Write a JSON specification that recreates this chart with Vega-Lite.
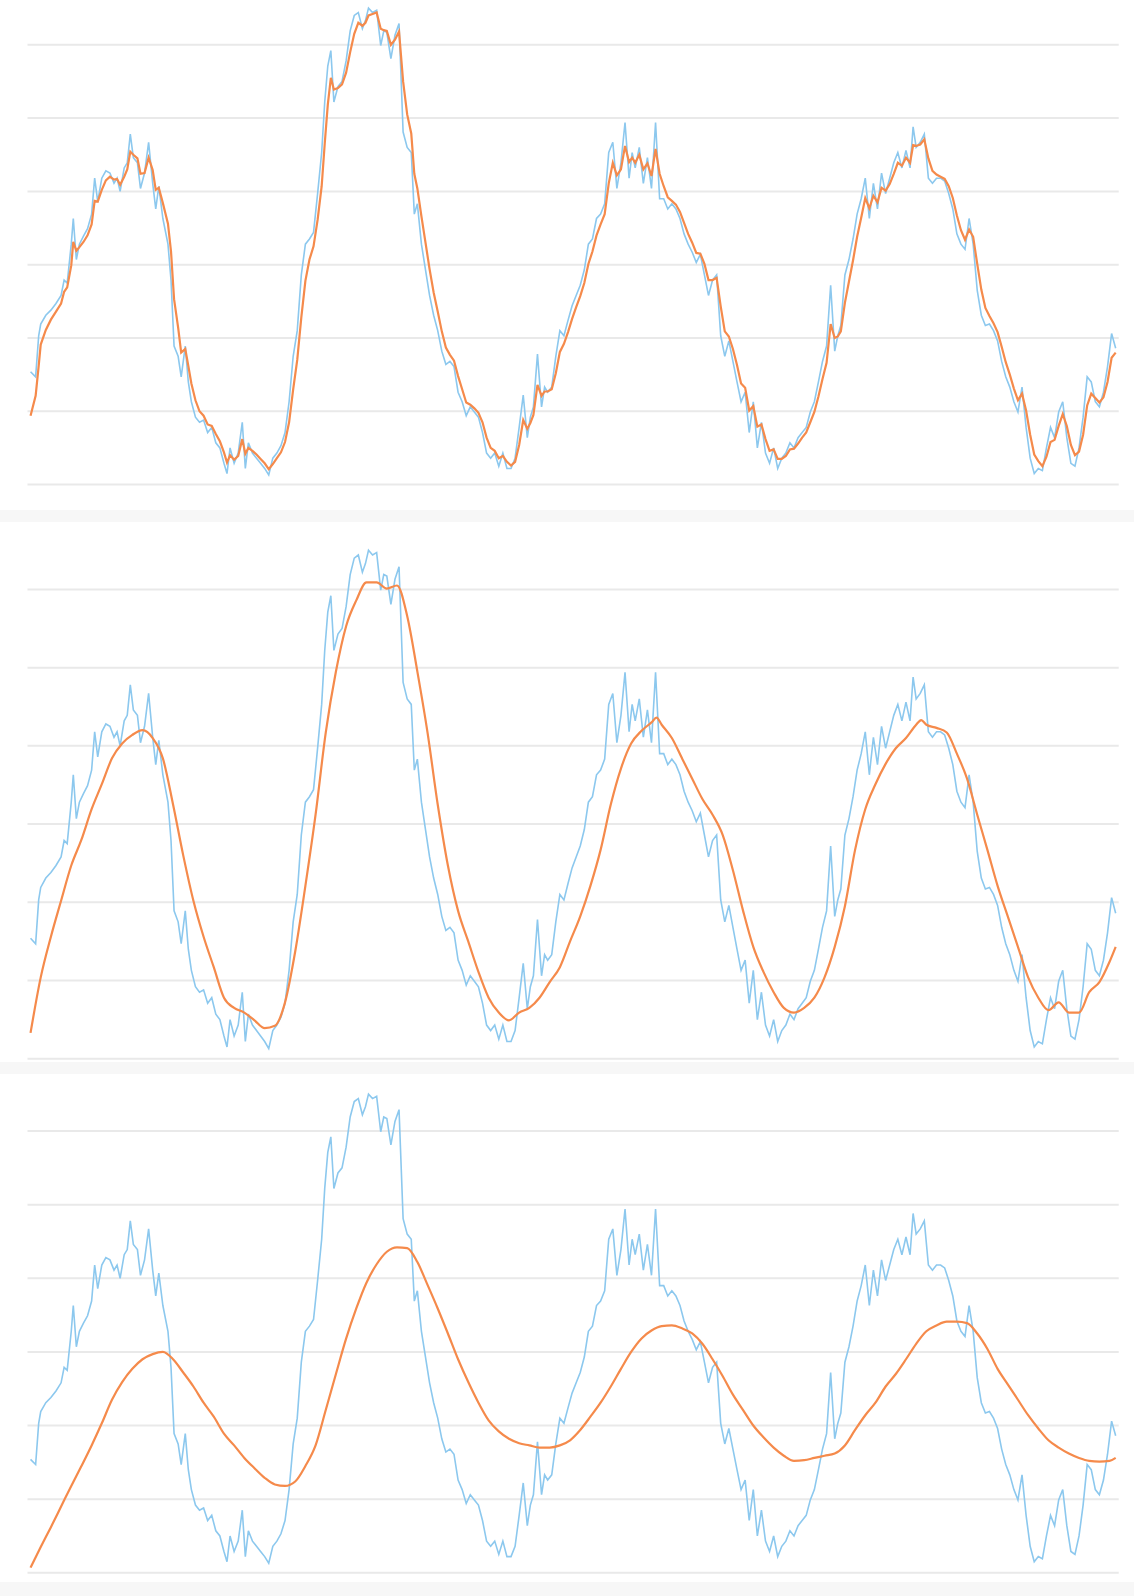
{
"$schema": "https://vega.github.io/schema/vega-lite/v6.json",
"background": "#f7f7f7",
"padding": {"left": 0, "right": 0, "top": 0, "bottom": 14},
"autosize": {"type": "pad"},
"spacing": 12,
"config": {"view": {"stroke": null, "fill": "white"}},
"datasets": {
"grid": [{"v":0,"x1":27,"x2":1099},{"v":10,"x1":27,"x2":1099},{"v":20,"x1":27,"x2":1099},{"v":30,"x1":27,"x2":1099},{"v":40,"x1":27,"x2":1099},{"v":50,"x1":27,"x2":1099},{"v":60,"x1":27,"x2":1099}],
"raw": [
{"t":30,"v":15.4},{"t":35,"v":14.7},{"t":38,"v":20.3},{"t":40,"v":21.9},{"t":45,"v":23.1},{"t":50,"v":23.8},{"t":55,"v":24.7},{"t":60,"v":25.8},{"t":63,"v":27.9},{"t":66,"v":27.5},
{"t":70,"v":32.8},{"t":72,"v":36.3},{"t":75,"v":30.7},{"t":78,"v":32.8},{"t":82,"v":33.9},{"t":86,"v":34.9},{"t":90,"v":36.9},{"t":93,"v":41.8},{"t":96,"v":38.6},{"t":100,"v":41.8},
{"t":104,"v":42.8},{"t":108,"v":42.5},{"t":112,"v":41.1},{"t":115,"v":41.8},{"t":118,"v":40.0},{"t":122,"v":43.2},{"t":125,"v":43.9},{"t":128,"v":47.8},{"t":131,"v":44.6},{"t":135,"v":43.9},
{"t":138,"v":40.4},{"t":142,"v":42.5},{"t":146,"v":46.7},{"t":150,"v":41.1},{"t":153,"v":37.6},{"t":156,"v":40.7},{"t":160,"v":36.3},{"t":165,"v":32.8},{"t":168,"v":27.9},{"t":171,"v":18.9},
{"t":175,"v":17.5},{"t":178,"v":14.7},{"t":182,"v":18.9},{"t":185,"v":14.0},{"t":188,"v":11.3},{"t":192,"v":9.2},{"t":196,"v":8.5},{"t":200,"v":8.8},{"t":204,"v":7.1},{"t":208,"v":7.8},
{"t":212,"v":5.7},{"t":216,"v":5.0},{"t":220,"v":2.9},{"t":223,"v":1.5},{"t":226,"v":5.0},{"t":230,"v":2.9},{"t":234,"v":4.3},{"t":238,"v":8.5},{"t":241,"v":2.2},{"t":244,"v":5.7},
{"t":248,"v":4.3},{"t":252,"v":3.6},{"t":256,"v":2.9},{"t":260,"v":2.2},{"t":264,"v":1.3},{"t":268,"v":3.6},{"t":272,"v":4.3},{"t":276,"v":5.3},{"t":280,"v":7.1},{"t":284,"v":11.3},
{"t":288,"v":17.5},{"t":292,"v":21.0},{"t":296,"v":28.6},{"t":300,"v":32.8},{"t":304,"v":33.5},{"t":308,"v":34.4},{"t":312,"v":39.7},{"t":316,"v":45.3},{"t":319,"v":52.2},{"t":322,"v":57.1},
{"t":325,"v":59.2},{"t":328,"v":52.2},{"t":332,"v":54.3},{"t":336,"v":55.0},{"t":340,"v":57.8},{"t":344,"v":61.9},{"t":348,"v":64.0},{"t":352,"v":64.4},{"t":356,"v":62.2},{"t":359,"v":63.3},
{"t":362,"v":65.0},{"t":366,"v":64.4},{"t":370,"v":64.7},{"t":374,"v":59.9},{"t":377,"v":61.9},{"t":380,"v":61.7},{"t":384,"v":58.1},{"t":388,"v":61.3},{"t":392,"v":62.9},{"t":396,"v":48.1},
{"t":400,"v":46.0},{"t":404,"v":45.3},{"t":407,"v":36.9},{"t":410,"v":38.3},{"t":414,"v":32.8},{"t":418,"v":29.3},{"t":422,"v":25.8},{"t":426,"v":23.1},{"t":430,"v":21.0},{"t":434,"v":18.2},
{"t":438,"v":16.4},{"t":442,"v":16.8},{"t":446,"v":16.1},{"t":450,"v":12.6},{"t":454,"v":11.3},{"t":458,"v":9.4},{"t":462,"v":10.6},{"t":466,"v":9.9},{"t":470,"v":9.2},{"t":474,"v":7.1},
{"t":478,"v":4.3},{"t":482,"v":3.6},{"t":486,"v":4.3},{"t":490,"v":2.5},{"t":494,"v":4.3},{"t":498,"v":2.2},{"t":502,"v":2.2},{"t":506,"v":3.6},{"t":510,"v":7.8},{"t":514,"v":12.2},
{"t":518,"v":6.4},{"t":521,"v":9.2},{"t":524,"v":10.6},{"t":528,"v":17.8},{"t":532,"v":10.6},{"t":535,"v":13.3},{"t":538,"v":12.6},{"t":542,"v":13.3},{"t":546,"v":17.5},{"t":550,"v":21.0},
{"t":554,"v":20.3},{"t":558,"v":22.4},{"t":562,"v":24.4},{"t":566,"v":25.8},{"t":570,"v":27.2},{"t":574,"v":29.3},{"t":578,"v":32.8},{"t":582,"v":33.5},{"t":586,"v":36.3},{"t":590,"v":36.9},
{"t":594,"v":38.3},{"t":598,"v":45.3},{"t":602,"v":46.7},{"t":606,"v":40.4},{"t":610,"v":43.9},{"t":614,"v":49.4},{"t":618,"v":41.8},{"t":621,"v":45.3},{"t":624,"v":43.2},{"t":628,"v":46.0},
{"t":632,"v":41.1},{"t":636,"v":44.6},{"t":640,"v":40.4},{"t":644,"v":49.4},{"t":648,"v":39.0},{"t":652,"v":39.0},{"t":656,"v":37.6},{"t":660,"v":38.3},{"t":664,"v":37.6},{"t":668,"v":36.3},
{"t":672,"v":34.2},{"t":676,"v":32.8},{"t":680,"v":31.7},{"t":684,"v":30.3},{"t":688,"v":31.4},{"t":692,"v":28.6},{"t":696,"v":25.8},{"t":700,"v":27.9},{"t":704,"v":28.6},{"t":708,"v":20.3},
{"t":712,"v":17.5},{"t":716,"v":19.6},{"t":720,"v":16.8},{"t":724,"v":14.0},{"t":728,"v":11.3},{"t":732,"v":12.6},{"t":736,"v":7.1},{"t":740,"v":11.3},{"t":744,"v":5.0},{"t":748,"v":8.5},
{"t":752,"v":4.3},{"t":756,"v":2.9},{"t":760,"v":5.0},{"t":764,"v":2.2},{"t":768,"v":3.6},{"t":772,"v":4.3},{"t":776,"v":5.7},{"t":780,"v":5.0},{"t":784,"v":6.4},{"t":788,"v":7.1},
{"t":792,"v":7.8},{"t":796,"v":9.9},{"t":800,"v":11.3},{"t":804,"v":14.0},{"t":808,"v":16.8},{"t":812,"v":18.9},{"t":816,"v":27.2},{"t":820,"v":18.2},{"t":823,"v":20.3},{"t":826,"v":21.7},
{"t":830,"v":28.6},{"t":834,"v":30.7},{"t":838,"v":33.5},{"t":842,"v":36.9},{"t":846,"v":39.0},{"t":850,"v":41.8},{"t":854,"v":36.3},{"t":858,"v":41.1},{"t":862,"v":37.6},{"t":866,"v":42.5},
{"t":870,"v":39.7},{"t":874,"v":41.8},{"t":878,"v":43.9},{"t":882,"v":45.3},{"t":886,"v":43.2},{"t":890,"v":45.6},{"t":894,"v":43.2},{"t":897,"v":48.8},{"t":900,"v":46.0},{"t":904,"v":46.7},
{"t":908,"v":47.8},{"t":912,"v":41.8},{"t":916,"v":41.1},{"t":920,"v":41.8},{"t":924,"v":41.8},{"t":928,"v":41.4},{"t":932,"v":39.7},{"t":936,"v":37.6},{"t":940,"v":34.2},{"t":944,"v":32.8},
{"t":948,"v":32.1},{"t":952,"v":36.3},{"t":956,"v":32.8},{"t":960,"v":26.5},{"t":964,"v":23.1},{"t":968,"v":21.7},{"t":972,"v":21.9},{"t":976,"v":21.0},{"t":980,"v":19.6},{"t":984,"v":16.8},
{"t":988,"v":14.7},{"t":992,"v":13.3},{"t":996,"v":11.3},{"t":1000,"v":9.9},{"t":1004,"v":13.3},{"t":1008,"v":7.8},{"t":1012,"v":3.6},{"t":1016,"v":1.5},{"t":1020,"v":2.2},{"t":1024,"v":1.9},
{"t":1028,"v":5.0},{"t":1032,"v":7.8},{"t":1036,"v":6.4},{"t":1040,"v":9.9},{"t":1044,"v":11.3},{"t":1048,"v":6.4},{"t":1052,"v":2.9},{"t":1056,"v":2.5},{"t":1060,"v":5.0},{"t":1064,"v":9.2},
{"t":1068,"v":14.7},{"t":1072,"v":14.0},{"t":1076,"v":11.3},{"t":1080,"v":10.6},{"t":1084,"v":12.6},{"t":1088,"v":16.1},{"t":1092,"v":20.6},{"t":1096,"v":18.6}
],
"s1": [
{"t":30,"v":9.4},{"t":35,"v":12.1},{"t":38,"v":16.2},{"t":40,"v":19.1},{"t":45,"v":21.1},{"t":50,"v":22.5},{"t":55,"v":23.6},{"t":60,"v":24.7},{"t":63,"v":26.3},{"t":66,"v":26.9},
{"t":70,"v":29.9},{"t":72,"v":33.1},{"t":75,"v":31.9},{"t":78,"v":32.4},{"t":82,"v":33.1},{"t":86,"v":34.0},{"t":90,"v":35.5},{"t":93,"v":38.7},{"t":96,"v":38.6},{"t":100,"v":40.2},
{"t":104,"v":41.5},{"t":108,"v":42.0},{"t":112,"v":41.6},{"t":115,"v":41.7},{"t":118,"v":40.9},{"t":122,"v":42.0},{"t":125,"v":43.0},{"t":128,"v":45.4},{"t":131,"v":45.0},{"t":135,"v":44.5},
{"t":138,"v":42.4},{"t":142,"v":42.5},{"t":146,"v":44.6},{"t":150,"v":42.9},{"t":153,"v":40.2},{"t":156,"v":40.5},{"t":160,"v":38.4},{"t":165,"v":35.6},{"t":168,"v":31.8},{"t":171,"v":25.3},
{"t":175,"v":21.4},{"t":178,"v":18.0},{"t":182,"v":18.5},{"t":185,"v":16.2},{"t":188,"v":13.8},{"t":192,"v":11.5},{"t":196,"v":10.0},{"t":200,"v":9.4},{"t":204,"v":8.2},{"t":208,"v":8.0},
{"t":212,"v":6.9},{"t":216,"v":5.9},{"t":220,"v":4.4},{"t":223,"v":3.0},{"t":226,"v":4.0},{"t":230,"v":3.4},{"t":234,"v":3.9},{"t":238,"v":6.2},{"t":241,"v":4.2},{"t":244,"v":5.0},
{"t":248,"v":4.6},{"t":252,"v":4.1},{"t":256,"v":3.5},{"t":260,"v":2.9},{"t":264,"v":2.1},{"t":268,"v":2.8},{"t":272,"v":3.6},{"t":276,"v":4.4},{"t":280,"v":5.8},{"t":284,"v":8.5},
{"t":288,"v":13.0},{"t":292,"v":17.0},{"t":296,"v":22.8},{"t":300,"v":27.8},{"t":304,"v":30.7},{"t":308,"v":32.5},{"t":312,"v":36.1},{"t":316,"v":40.7},{"t":319,"v":46.5},{"t":322,"v":51.8},
{"t":325,"v":55.5},{"t":328,"v":53.9},{"t":332,"v":54.1},{"t":336,"v":54.6},{"t":340,"v":56.2},{"t":344,"v":59.0},{"t":348,"v":61.5},{"t":352,"v":63.0},{"t":356,"v":62.6},{"t":359,"v":63.0},
{"t":362,"v":64.0},{"t":366,"v":64.2},{"t":370,"v":64.4},{"t":374,"v":62.2},{"t":377,"v":62.0},{"t":380,"v":61.9},{"t":384,"v":60.0},{"t":388,"v":60.7},{"t":392,"v":61.8},{"t":396,"v":55.0},
{"t":400,"v":50.5},{"t":404,"v":47.9},{"t":407,"v":42.4},{"t":410,"v":40.4},{"t":414,"v":36.6},{"t":418,"v":33.0},{"t":422,"v":29.4},{"t":426,"v":26.2},{"t":430,"v":23.6},{"t":434,"v":20.9},
{"t":438,"v":18.7},{"t":442,"v":17.7},{"t":446,"v":16.9},{"t":450,"v":14.8},{"t":454,"v":13.0},{"t":458,"v":11.2},{"t":462,"v":10.9},{"t":466,"v":10.4},{"t":470,"v":9.8},{"t":474,"v":8.5},
{"t":478,"v":6.4},{"t":482,"v":5.0},{"t":486,"v":4.6},{"t":490,"v":3.6},{"t":494,"v":3.9},{"t":498,"v":3.1},{"t":502,"v":2.6},{"t":506,"v":3.1},{"t":510,"v":5.4},{"t":514,"v":8.8},
{"t":518,"v":7.6},{"t":521,"v":8.4},{"t":524,"v":9.5},{"t":528,"v":13.6},{"t":532,"v":12.1},{"t":535,"v":12.7},{"t":538,"v":12.7},{"t":542,"v":13.0},{"t":546,"v":15.2},{"t":550,"v":18.1},
{"t":554,"v":19.2},{"t":558,"v":20.8},{"t":562,"v":22.6},{"t":566,"v":24.2},{"t":570,"v":25.7},{"t":574,"v":27.5},{"t":578,"v":30.1},{"t":582,"v":31.8},{"t":586,"v":34.0},{"t":590,"v":35.5},
{"t":594,"v":36.9},{"t":598,"v":41.1},{"t":602,"v":43.9},{"t":606,"v":42.2},{"t":610,"v":43.0},{"t":614,"v":46.2},{"t":618,"v":44.0},{"t":621,"v":44.6},{"t":624,"v":43.9},{"t":628,"v":45.0},
{"t":632,"v":43.0},{"t":636,"v":43.8},{"t":640,"v":42.1},{"t":644,"v":45.8},{"t":648,"v":42.4},{"t":652,"v":40.7},{"t":656,"v":39.2},{"t":660,"v":38.7},{"t":664,"v":38.2},{"t":668,"v":37.2},
{"t":672,"v":35.7},{"t":676,"v":34.2},{"t":680,"v":33.0},{"t":684,"v":31.6},{"t":688,"v":31.5},{"t":692,"v":30.1},{"t":696,"v":27.9},{"t":700,"v":27.9},{"t":704,"v":28.2},{"t":708,"v":24.3},
{"t":712,"v":20.9},{"t":716,"v":20.2},{"t":720,"v":18.5},{"t":724,"v":16.3},{"t":728,"v":13.8},{"t":732,"v":13.2},{"t":736,"v":10.1},{"t":740,"v":10.7},{"t":744,"v":7.9},{"t":748,"v":8.2},
{"t":752,"v":6.2},{"t":756,"v":4.6},{"t":760,"v":4.8},{"t":764,"v":3.5},{"t":768,"v":3.5},{"t":772,"v":3.9},{"t":776,"v":4.8},{"t":780,"v":4.9},{"t":784,"v":5.6},{"t":788,"v":6.4},
{"t":792,"v":7.1},{"t":796,"v":8.5},{"t":800,"v":9.9},{"t":804,"v":12.0},{"t":808,"v":14.4},{"t":812,"v":16.6},{"t":816,"v":21.9},{"t":820,"v":20.0},{"t":823,"v":20.2},{"t":826,"v":20.9},
{"t":830,"v":24.8},{"t":834,"v":27.7},{"t":838,"v":30.6},{"t":842,"v":33.8},{"t":846,"v":36.4},{"t":850,"v":39.1},{"t":854,"v":37.7},{"t":858,"v":39.4},{"t":862,"v":38.5},{"t":866,"v":40.5},
{"t":870,"v":40.1},{"t":874,"v":41.0},{"t":878,"v":42.4},{"t":882,"v":43.9},{"t":886,"v":43.5},{"t":890,"v":44.6},{"t":894,"v":43.9},{"t":897,"v":46.3},{"t":900,"v":46.2},{"t":904,"v":46.4},
{"t":908,"v":47.1},{"t":912,"v":44.5},{"t":916,"v":42.8},{"t":920,"v":42.3},{"t":924,"v":42.0},{"t":928,"v":41.7},{"t":932,"v":40.7},{"t":936,"v":39.1},{"t":940,"v":36.7},{"t":944,"v":34.7},
{"t":948,"v":33.4},{"t":952,"v":34.8},{"t":956,"v":33.8},{"t":960,"v":30.1},{"t":964,"v":26.6},{"t":968,"v":24.1},{"t":972,"v":23.0},{"t":976,"v":22.0},{"t":980,"v":20.8},{"t":984,"v":18.8},
{"t":988,"v":16.7},{"t":992,"v":15.0},{"t":996,"v":13.1},{"t":1000,"v":11.5},{"t":1004,"v":12.4},{"t":1008,"v":10.1},{"t":1012,"v":6.8},{"t":1016,"v":4.1},{"t":1020,"v":3.2},{"t":1024,"v":2.5},
{"t":1028,"v":3.8},{"t":1032,"v":5.8},{"t":1036,"v":6.1},{"t":1040,"v":8.0},{"t":1044,"v":9.6},{"t":1048,"v":8.0},{"t":1052,"v":5.4},{"t":1056,"v":4.0},{"t":1060,"v":4.5},{"t":1064,"v":6.8},
{"t":1068,"v":10.8},{"t":1072,"v":12.4},{"t":1076,"v":11.8},{"t":1080,"v":11.2},{"t":1084,"v":11.9},{"t":1088,"v":14.0},{"t":1092,"v":17.3},{"t":1096,"v":18.0}
],
"s2": [
{"t":30,"v":3.3},{"t":40,"v":10.4},{"t":50,"v":15.6},{"t":60,"v":20.2},{"t":70,"v":24.7},{"t":80,"v":28.0},{"t":90,"v":31.9},{"t":100,"v":35.1},{"t":110,"v":38.4},{"t":120,"v":40.3},
{"t":130,"v":41.4},{"t":140,"v":42.0},{"t":150,"v":41.0},{"t":160,"v":38.4},{"t":170,"v":32.5},{"t":180,"v":26.0},{"t":190,"v":20.2},{"t":200,"v":15.6},{"t":210,"v":11.7},{"t":220,"v":7.8},
{"t":230,"v":6.5},{"t":240,"v":5.9},{"t":250,"v":4.9},{"t":260,"v":3.9},{"t":270,"v":4.2},{"t":280,"v":7.2},{"t":290,"v":13.7},{"t":300,"v":22.1},{"t":310,"v":31.2},{"t":320,"v":41.7},
{"t":330,"v":49.5},{"t":340,"v":55.3},{"t":350,"v":58.6},{"t":360,"v":60.9},{"t":370,"v":60.9},{"t":380,"v":60.1},{"t":390,"v":60.5},{"t":400,"v":56.6},{"t":410,"v":49.5},{"t":420,"v":41.7},
{"t":430,"v":32.5},{"t":440,"v":24.7},{"t":450,"v":18.9},{"t":460,"v":15.0},{"t":470,"v":11.1},{"t":480,"v":7.8},{"t":490,"v":5.9},{"t":500,"v":4.9},{"t":510,"v":5.9},{"t":520,"v":6.5},
{"t":530,"v":7.8},{"t":540,"v":9.8},{"t":550,"v":11.7},{"t":560,"v":15.0},{"t":570,"v":18.2},{"t":580,"v":22.1},{"t":590,"v":26.7},{"t":600,"v":32.5},{"t":610,"v":37.1},{"t":620,"v":40.3},
{"t":630,"v":41.9},{"t":640,"v":43.0},{"t":645,"v":43.6},{"t":650,"v":42.7},{"t":660,"v":41.0},{"t":670,"v":38.4},{"t":680,"v":35.8},{"t":690,"v":33.2},{"t":700,"v":31.2},{"t":710,"v":28.6},
{"t":720,"v":24.1},{"t":730,"v":18.9},{"t":740,"v":14.3},{"t":750,"v":11.1},{"t":760,"v":8.5},{"t":770,"v":6.5},{"t":780,"v":5.9},{"t":790,"v":6.5},{"t":800,"v":7.8},{"t":810,"v":10.4},
{"t":820,"v":14.3},{"t":830,"v":19.5},{"t":840,"v":26.7},{"t":850,"v":31.9},{"t":860,"v":35.1},{"t":870,"v":37.7},{"t":880,"v":39.7},{"t":890,"v":41.0},{"t":900,"v":42.7},{"t":905,"v":43.3},
{"t":910,"v":42.7},{"t":920,"v":42.3},{"t":930,"v":41.7},{"t":940,"v":39.0},{"t":950,"v":35.8},{"t":960,"v":31.2},{"t":970,"v":26.7},{"t":980,"v":22.1},{"t":990,"v":18.2},{"t":1000,"v":14.3},
{"t":1010,"v":10.4},{"t":1020,"v":7.8},{"t":1030,"v":6.2},{"t":1040,"v":7.2},{"t":1050,"v":5.9},{"t":1060,"v":5.9},{"t":1070,"v":8.5},{"t":1080,"v":9.8},{"t":1090,"v":12.4},{"t":1096,"v":14.3}
],
"s3": [
{"t":30,"v":0.7},{"t":40,"v":3.5},{"t":50,"v":6.2},{"t":60,"v":9.0},{"t":70,"v":11.8},{"t":80,"v":14.5},{"t":90,"v":17.3},{"t":100,"v":20.3},{"t":110,"v":23.5},{"t":120,"v":25.9},
{"t":130,"v":27.7},{"t":140,"v":29.0},{"t":150,"v":29.7},{"t":160,"v":30.0},{"t":170,"v":29.0},{"t":180,"v":27.2},{"t":190,"v":25.3},{"t":200,"v":23.1},{"t":210,"v":21.2},{"t":220,"v":18.9},
{"t":230,"v":17.3},{"t":240,"v":15.6},{"t":250,"v":14.2},{"t":260,"v":12.9},{"t":270,"v":12.0},{"t":280,"v":11.8},{"t":290,"v":12.4},{"t":300,"v":14.5},{"t":310,"v":17.3},{"t":320,"v":22.1},
{"t":330,"v":27.0},{"t":340,"v":31.8},{"t":350,"v":35.9},{"t":360,"v":39.4},{"t":370,"v":41.9},{"t":380,"v":43.6},{"t":390,"v":44.2},{"t":400,"v":44.1},{"t":410,"v":42.2},{"t":420,"v":39.1},
{"t":430,"v":35.9},{"t":440,"v":32.5},{"t":450,"v":29.0},{"t":460,"v":25.9},{"t":470,"v":23.1},{"t":480,"v":20.7},{"t":490,"v":19.2},{"t":500,"v":18.2},{"t":510,"v":17.6},{"t":520,"v":17.3},
{"t":530,"v":17.0},{"t":540,"v":17.0},{"t":550,"v":17.3},{"t":560,"v":18.0},{"t":570,"v":19.4},{"t":580,"v":21.2},{"t":590,"v":23.1},{"t":600,"v":25.3},{"t":610,"v":27.7},{"t":620,"v":30.0},
{"t":630,"v":31.8},{"t":640,"v":32.9},{"t":650,"v":33.5},{"t":660,"v":33.6},{"t":670,"v":33.2},{"t":680,"v":32.5},{"t":690,"v":31.1},{"t":700,"v":29.0},{"t":710,"v":26.7},{"t":720,"v":24.2},
{"t":730,"v":22.1},{"t":740,"v":20.0},{"t":750,"v":18.4},{"t":760,"v":17.0},{"t":770,"v":15.9},{"t":780,"v":15.2},{"t":790,"v":15.3},{"t":800,"v":15.6},{"t":810,"v":15.9},{"t":820,"v":16.2},
{"t":830,"v":17.3},{"t":840,"v":19.4},{"t":850,"v":21.4},{"t":860,"v":23.1},{"t":870,"v":25.3},{"t":880,"v":27.0},{"t":890,"v":29.0},{"t":900,"v":31.1},{"t":910,"v":32.8},{"t":920,"v":33.6},
{"t":930,"v":34.1},{"t":940,"v":34.1},{"t":950,"v":33.9},{"t":960,"v":32.5},{"t":970,"v":30.4},{"t":980,"v":27.7},{"t":990,"v":25.6},{"t":1000,"v":23.5},{"t":1010,"v":21.4},{"t":1020,"v":19.6},
{"t":1030,"v":18.0},{"t":1040,"v":17.0},{"t":1050,"v":16.2},{"t":1060,"v":15.6},{"t":1070,"v":15.2},{"t":1080,"v":15.1},{"t":1090,"v":15.2},{"t":1096,"v":15.6}
]
},
"vconcat": [
{
"width": 1134, "height": 510,
"layer": [
{"data": {"name": "grid"}, "mark": {"type": "rule", "color": "#e9e9e9", "strokeWidth": 2},
 "encoding": {"x": {"field": "x1", "type": "quantitative", "scale": {"domain": [0, 1114], "nice": false, "zero": false}, "axis": null}, "x2": {"field": "x2"},
  "y": {"field": "v", "type": "quantitative", "scale": {"domain": [-3.47, 66.11], "nice": false, "zero": false}, "axis": null}}},
{"data": {"name": "raw"}, "mark": {"type": "line", "color": "#8cc8ee", "strokeWidth": 1.6},
 "encoding": {"x": {"field": "t", "type": "quantitative"}, "y": {"field": "v", "type": "quantitative"}}},
{"data": {"name": "s1"}, "mark": {"type": "line", "color": "#f58a4b", "strokeWidth": 2.2},
 "encoding": {"x": {"field": "t", "type": "quantitative"}, "y": {"field": "v", "type": "quantitative"}}}
]
},
{
"width": 1134, "height": 540,
"layer": [
{"data": {"name": "grid"}, "mark": {"type": "rule", "color": "#e9e9e9", "strokeWidth": 2},
 "encoding": {"x": {"field": "x1", "type": "quantitative", "scale": {"domain": [0, 1114], "nice": false, "zero": false}, "axis": null}, "x2": {"field": "x2"},
  "y": {"field": "v", "type": "quantitative", "scale": {"domain": [-0.42, 68.62], "nice": false, "zero": false}, "axis": null}}},
{"data": {"name": "raw"}, "mark": {"type": "line", "color": "#8cc8ee", "strokeWidth": 1.6},
 "encoding": {"x": {"field": "t", "type": "quantitative"}, "y": {"field": "v", "type": "quantitative"}}},
{"data": {"name": "s2"}, "mark": {"type": "line", "color": "#f58a4b", "strokeWidth": 2.2, "interpolate": "monotone"},
 "encoding": {"x": {"field": "t", "type": "quantitative"}, "y": {"field": "v", "type": "quantitative"}}}
]
},
{
"width": 1134, "height": 508,
"layer": [
{"data": {"name": "grid"}, "mark": {"type": "rule", "color": "#e9e9e9", "strokeWidth": 2},
 "encoding": {"x": {"field": "x1", "type": "quantitative", "scale": {"domain": [0, 1114], "nice": false, "zero": false}, "axis": null}, "x2": {"field": "x2"},
  "y": {"field": "v", "type": "quantitative", "scale": {"domain": [-1.25, 67.74], "nice": false, "zero": false}, "axis": null}}},
{"data": {"name": "raw"}, "mark": {"type": "line", "color": "#8cc8ee", "strokeWidth": 1.6},
 "encoding": {"x": {"field": "t", "type": "quantitative"}, "y": {"field": "v", "type": "quantitative"}}},
{"data": {"name": "s3"}, "mark": {"type": "line", "color": "#f58a4b", "strokeWidth": 2.2, "interpolate": "monotone"},
 "encoding": {"x": {"field": "t", "type": "quantitative"}, "y": {"field": "v", "type": "quantitative"}}}
]
}
]
}
